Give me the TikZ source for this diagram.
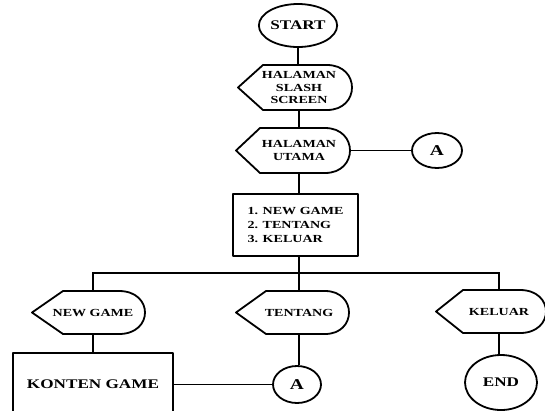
\documentclass[tikz,border=0pt]{standalone}
\usepackage{fontspec}
\setmainfont{Liberation Serif}[FakeStretch=1.3]
\usetikzlibrary{shapes.geometric}
\newcommand\fsmall{\fontsize{10.8}{12.2}\selectfont\bfseries}
\newcommand\fbig{\fontsize{13.2}{15}\selectfont\bfseries}
\newcommand\fA{\fontsize{15}{15}\selectfont\bfseries}
% name, left, right, halfh, tip, r
\newcommand\dispoutline[6]{%
  \draw[shp] ([shift={(-#2,0)}]#1.center)
    -- ([shift={(-#2+#5,-#4)}]#1.center)
    -- ([shift={(#3-#6,-#4)}]#1.center)
    .. controls ([shift={(#3-#6+4/3*#6,-#4)}]#1.center) and ([shift={(#3-#6+4/3*#6,#4)}]#1.center) .. ([shift={(#3-#6,#4)}]#1.center)
    -- ([shift={(-#2+#5,#4)}]#1.center) -- cycle;}
\begin{document}
\begin{tikzpicture}[x=1pt,y=-1pt,
  shp/.style={line width=1.8pt, line join=round},
  ln/.style={line width=1.8pt},
  term/.style={ellipse, shp, draw, inner sep=0pt},
  disp/.style={rectangle, inner sep=0pt, align=center, font=\fsmall},
  boxn/.style={rectangle, shp, draw, inner sep=0pt}]
\useasboundingbox (0,0) rectangle (545,410);
\clip (0,0) rectangle (545,410);

\node[term, minimum width=77pt, minimum height=43pt, font=\fbig] (start) at (298,25.5) {START};

\node[disp, minimum width=106pt, minimum height=45pt] (slash) at (299,87.5) {HALAMAN\\SLASH\\SCREEN};
\dispoutline{slash}{61}{53}{22.5}{25}{25}

\node[disp, minimum width=102pt, minimum height=45pt] (utama) at (299,150.5) {HALAMAN\\UTAMA};
\dispoutline{utama}{63}{51}{22.5}{24}{25}

\node[term, minimum width=50pt, minimum height=35pt, font=\fA] (a1) at (437,150.5) {A};

\node[boxn, minimum width=125pt, minimum height=62pt, align=left, font=\fontsize{10.8}{14.3}\selectfont\bfseries] (menu) at (295.5,225) {1. NEW GAME\\2. TENTANG\\3. KELUAR};

\coordinate (bus) at (299,273);

\node[disp, minimum width=104pt, minimum height=43pt] (newgame) at (93,312.5) {NEW GAME};
\dispoutline{newgame}{61}{52}{21.5}{31}{26}

\node[disp, minimum width=102pt, minimum height=43pt] (tentang) at (299,312.5) {TENTANG};
\dispoutline{tentang}{63}{50}{21.5}{30}{24}

\node[disp, minimum width=94pt, minimum height=43pt] (keluar) at (499,311.5) {KELUAR};
\dispoutline{keluar}{63}{47}{21.5}{27}{26}

\node[boxn, minimum width=160.6pt, minimum height=63.6pt, font=\fbig] (konten) at (93,384.5) {KONTEN GAME};

\node[term, minimum width=48pt, minimum height=37pt, font=\fA] (a2) at (297,384.5) {A};

\node[term, minimum width=72pt, minimum height=55pt, font=\fbig] (end) at (501,382.5) {END};

\draw[ln] (start.south) -- (start.south |- slash.north);
\draw[ln] (slash.south) -- (utama.north);
\draw[ln] (utama.east) -- (a1.west);
\draw[ln] (utama.south) -- (utama.south |- menu.north);
\draw[ln] (menu.south -| bus) -- (bus);
\draw[ln] (newgame.north) -- (newgame.north |- bus) -- (keluar.north |- bus) -- (keluar.north);
\draw[ln] (tentang.north) -- (tentang.north |- bus);
\draw[ln] (newgame.south) -- (newgame.south |- konten.north);
\draw[ln] (tentang.south) -- (tentang.south |- a2.north);
\draw[ln] (konten.east) -- (a2.west);
\draw[ln] (keluar.south) -- (keluar.south |- end.north);
\end{tikzpicture}
\end{document}
